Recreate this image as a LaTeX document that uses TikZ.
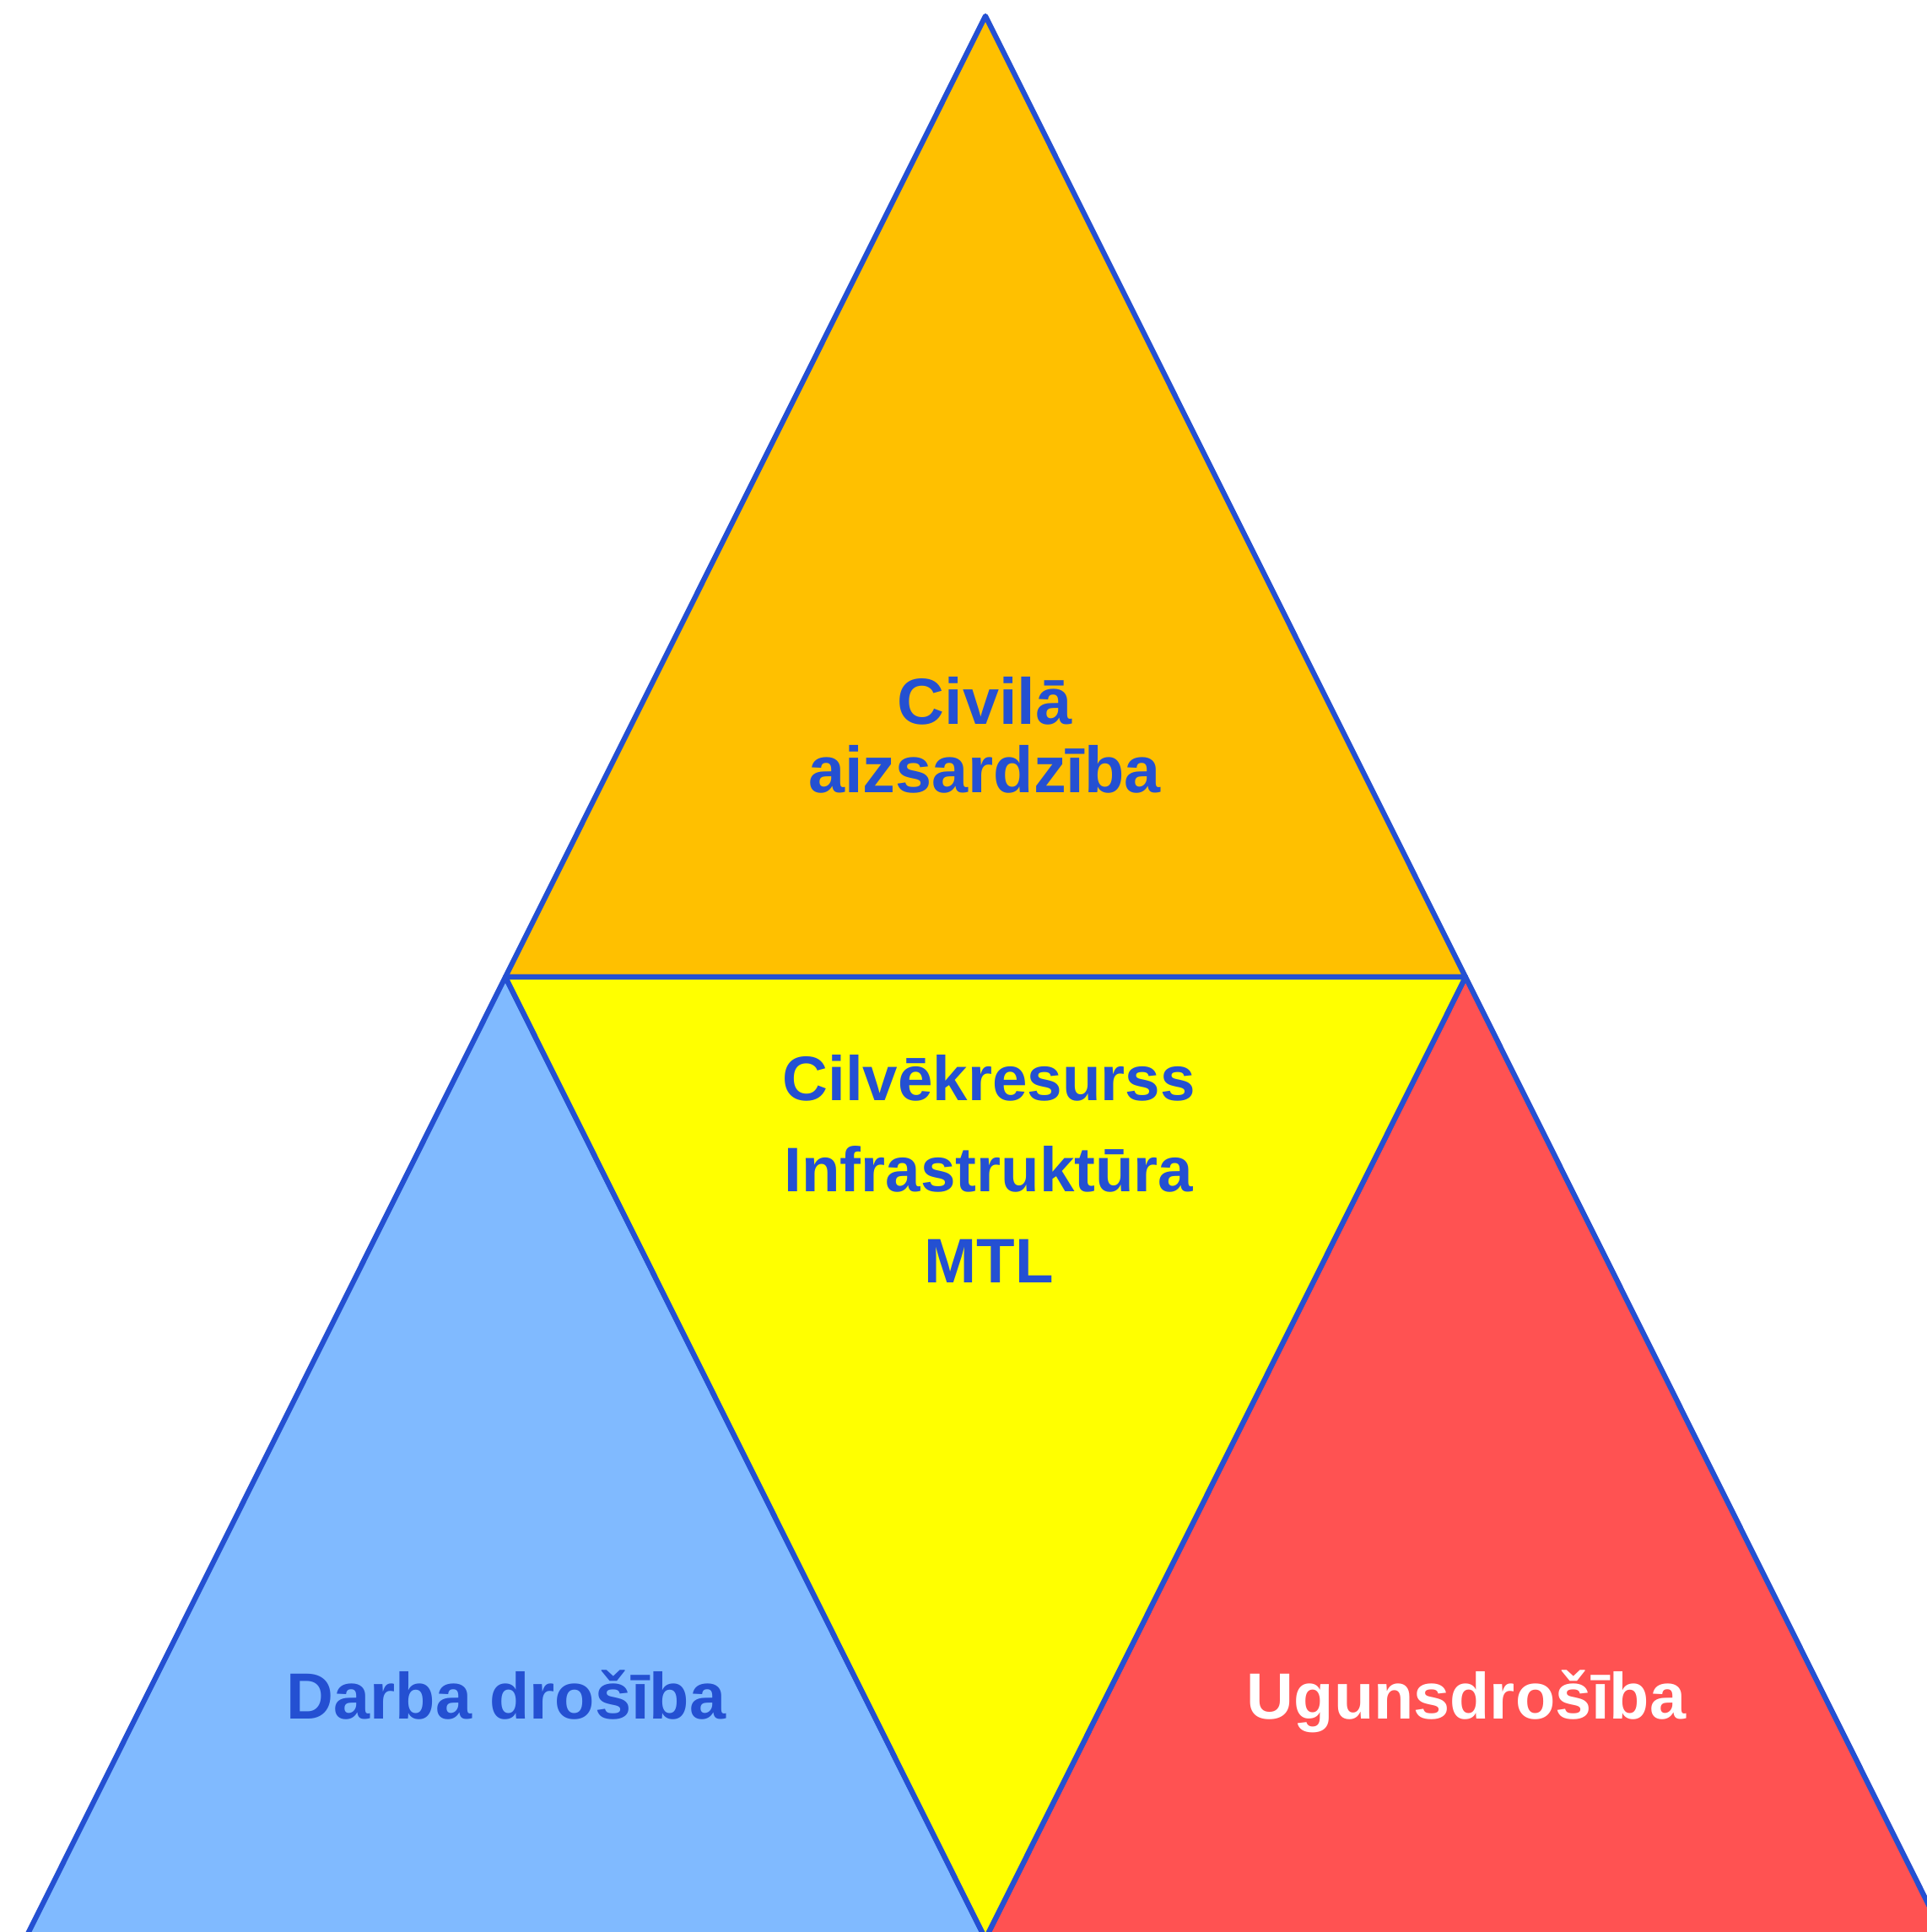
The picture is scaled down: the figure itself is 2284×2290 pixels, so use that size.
\documentclass[tikz,border=0pt]{standalone}
\usepackage{fontspec}
\setmainfont{Liberation Sans}
\usetikzlibrary{positioning}
\definecolor{edge}{RGB}{36,80,210}
\definecolor{civil}{RGB}{255,192,0}
\definecolor{core}{RGB}{255,255,0}
\definecolor{work}{RGB}{128,186,255}
\definecolor{fire}{RGB}{255,82,82}
\begin{document}
\begin{tikzpicture}[
  x=0.01cm, y=-0.01cm,
  sector/.style={draw=edge, line width=1.75pt, line join=round},
  title/.style={text=edge, align=center, anchor=base, inner sep=0pt}
]

\useasboundingbox (0,0) rectangle (2284,2290);
\clip (0,0) rectangle (2284,2290);

\coordinate (apex) at (1168,19);
\coordinate (midL) at (599,1158);
\coordinate (midR) at (1737,1158);
\coordinate (botL) at (30,2298);
\coordinate (botM) at (1168,2298);
\coordinate (botR) at (2306,2298);

\filldraw[sector, fill=civil] (apex) -- (midR) -- (midL) -- cycle;
\filldraw[sector, fill=work] (midL) -- (botM) -- (botL) -- cycle;
\filldraw[sector, fill=fire] (midR) -- (botR) -- (botM) -- cycle;
\filldraw[sector, fill=core] (midL) -- (midR) -- (botM) -- cycle;

\node[title, font=\bfseries\fontsize{22pt}{22.8pt}\selectfont] (civ) at (1167,939) {Civilā\\aizsardzība};
\node[title, font=\bfseries\fontsize{21.2pt}{30.7pt}\selectfont] (res) at (1172,1520) {Cilvēkresurss\\Infrastruktūra\\MTL};
\node[title, font=\bfseries\fontsize{22pt}{22.8pt}\selectfont] (darba) at (600,2037) {Darba drošība};
\node[title, font=\bfseries\fontsize{22pt}{22.8pt}\selectfont, text=white] (ugun) at (1738,2037) {Ugunsdrošība};

\end{tikzpicture}
\end{document}
